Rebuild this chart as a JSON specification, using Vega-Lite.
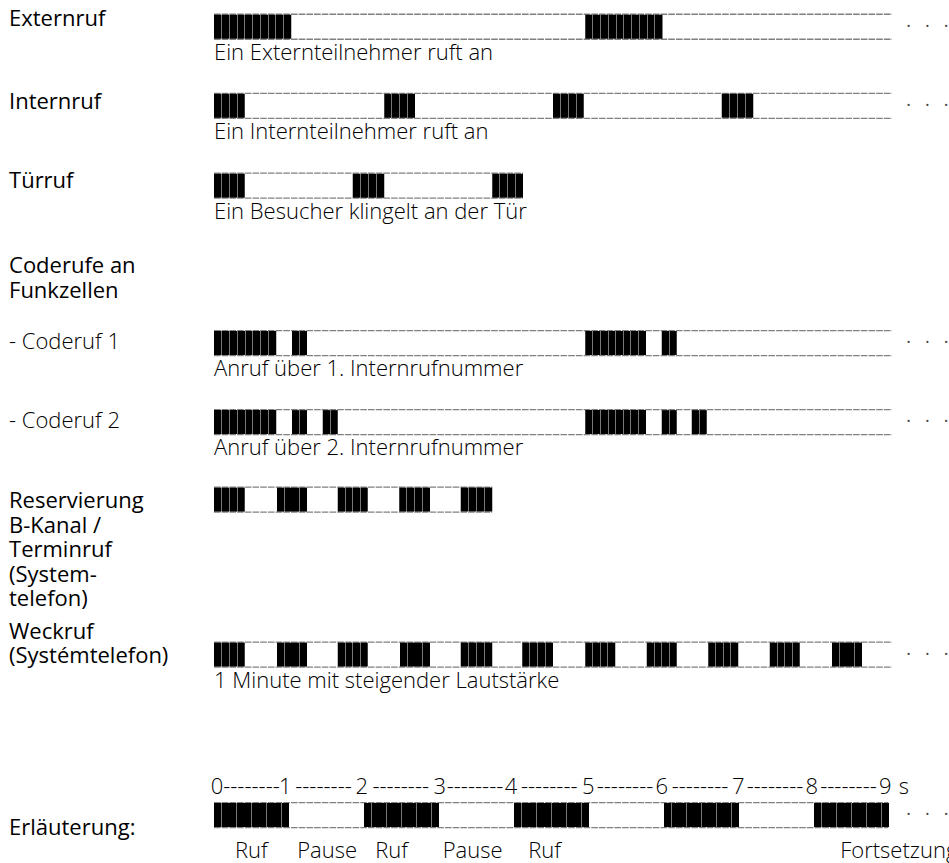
{
  "$schema": "https://vega.github.io/schema/vega-lite/v6.json",
  "width": 949,
  "height": 863,
  "autosize": {"type": "none"},
  "padding": 0,
  "background": "white",
  "config": {"view": {"stroke": null}, "font": "Open Sans"},
  "datasets": {
    "rows": [
      {"signal": "Externruf", "slot": 0, "lineStart": 0, "lineEnd": 9.04, "continues": true, "caption": "Ein Externteilnehmer ruft an"},
      {"signal": "Internruf", "slot": 1, "lineStart": 0, "lineEnd": 9.04, "continues": true, "caption": "Ein Internteilnehmer ruft an"},
      {"signal": "Türruf", "slot": 2.01, "lineStart": 0, "lineEnd": 4.12, "continues": false, "caption": "Ein Besucher klingelt an der Tür"},
      {"signal": "Coderuf 1", "slot": 4, "lineStart": 0, "lineEnd": 9.04, "continues": true, "caption": "Anruf über 1. Internrufnummer"},
      {"signal": "Coderuf 2", "slot": 5, "lineStart": 0, "lineEnd": 9.04, "continues": true, "caption": "Anruf über 2. Internrufnummer"},
      {"signal": "Reservierung", "slot": 5.98, "lineStart": 0, "lineEnd": 3.71, "continues": false, "caption": ""},
      {"signal": "Weckruf", "slot": 7.94, "lineStart": 0, "lineEnd": 9.04, "continues": true, "caption": "1 Minute mit steigender Lautstärke"},
      {"signal": "Erläuterung", "slot": 9.97, "lineStart": 0, "lineEnd": 8.99, "continues": true, "caption": ""}
    ],
    "segments": [
      {"signal": "Externruf", "slot": 0, "start": 0, "end": 1.03},
      {"signal": "Externruf", "slot": 0, "start": 4.95, "end": 5.98},
      {"signal": "Internruf", "slot": 1, "start": 0, "end": 0.41},
      {"signal": "Internruf", "slot": 1, "start": 2.27, "end": 2.68},
      {"signal": "Internruf", "slot": 1, "start": 4.52, "end": 4.93},
      {"signal": "Internruf", "slot": 1, "start": 6.77, "end": 7.19},
      {"signal": "Türruf", "slot": 2.01, "start": 0, "end": 0.41},
      {"signal": "Türruf", "slot": 2.01, "start": 1.85, "end": 2.27},
      {"signal": "Türruf", "slot": 2.01, "start": 3.71, "end": 4.12},
      {"signal": "Coderuf 1", "slot": 4, "start": 0, "end": 0.83},
      {"signal": "Coderuf 1", "slot": 4, "start": 1.04, "end": 1.24},
      {"signal": "Coderuf 1", "slot": 4, "start": 4.95, "end": 5.76},
      {"signal": "Coderuf 1", "slot": 4, "start": 5.97, "end": 6.17},
      {"signal": "Coderuf 2", "slot": 5, "start": 0, "end": 0.83},
      {"signal": "Coderuf 2", "slot": 5, "start": 1.04, "end": 1.24},
      {"signal": "Coderuf 2", "slot": 5, "start": 1.45, "end": 1.65},
      {"signal": "Coderuf 2", "slot": 5, "start": 4.95, "end": 5.76},
      {"signal": "Coderuf 2", "slot": 5, "start": 5.97, "end": 6.17},
      {"signal": "Coderuf 2", "slot": 5, "start": 6.37, "end": 6.57},
      {"signal": "Reservierung", "slot": 5.98, "start": 0, "end": 0.41},
      {"signal": "Reservierung", "slot": 5.98, "start": 0.84, "end": 1.24},
      {"signal": "Reservierung", "slot": 5.98, "start": 1.65, "end": 2.05},
      {"signal": "Reservierung", "slot": 5.98, "start": 2.47, "end": 2.88},
      {"signal": "Reservierung", "slot": 5.98, "start": 3.29, "end": 3.71},
      {"signal": "Weckruf", "slot": 7.94, "start": 0, "end": 0.41},
      {"signal": "Weckruf", "slot": 7.94, "start": 0.84, "end": 1.24},
      {"signal": "Weckruf", "slot": 7.94, "start": 1.65, "end": 2.05},
      {"signal": "Weckruf", "slot": 7.94, "start": 2.48, "end": 2.88},
      {"signal": "Weckruf", "slot": 7.94, "start": 3.29, "end": 3.71},
      {"signal": "Weckruf", "slot": 7.94, "start": 4.11, "end": 4.52},
      {"signal": "Weckruf", "slot": 7.94, "start": 4.95, "end": 5.35},
      {"signal": "Weckruf", "slot": 7.94, "start": 5.77, "end": 6.17},
      {"signal": "Weckruf", "slot": 7.94, "start": 6.59, "end": 6.99},
      {"signal": "Weckruf", "slot": 7.94, "start": 7.41, "end": 7.81},
      {"signal": "Weckruf", "slot": 7.94, "start": 8.24, "end": 8.64},
      {"signal": "Erläuterung", "slot": 9.97, "start": 0, "end": 1},
      {"signal": "Erläuterung", "slot": 9.97, "start": 2, "end": 3},
      {"signal": "Erläuterung", "slot": 9.97, "start": 4, "end": 5},
      {"signal": "Erläuterung", "slot": 9.97, "start": 6, "end": 7},
      {"signal": "Erläuterung", "slot": 9.97, "start": 8, "end": 9}
    ],
    "labels": [
      {"label": "Externruf", "slot": -0.01, "level": 1},
      {"label": "Internruf", "slot": 1.04, "level": 1},
      {"label": "Türruf", "slot": 2.04, "level": 1},
      {"label": "Coderufe an\nFunkzellen", "slot": 3.115, "level": 1},
      {"label": "- Coderuf 1", "slot": 4.08, "level": 2},
      {"label": "- Coderuf 2", "slot": 5.08, "level": 2},
      {"label": "Reservierung\nB-Kanal /\nTerminruf\n(System-\ntelefon)", "slot": 6.09, "level": 1},
      {"label": "Weckruf\n(Systémtelefon)", "slot": 7.74, "level": 1},
      {"label": "Erläuterung:", "slot": 10.22, "level": 1}
    ],
    "scaleMarks": [
      {"t": 0.04, "label": "0"},
      {"t": 0.5, "label": "--------"},
      {"t": 0.95, "label": "1"},
      {"t": 1.46, "label": "--------"},
      {"t": 1.97, "label": "2"},
      {"t": 2.49, "label": "--------"},
      {"t": 3.01, "label": "3"},
      {"t": 3.48, "label": "--------"},
      {"t": 3.96, "label": "4"},
      {"t": 4.47, "label": "--------"},
      {"t": 4.99, "label": "5"},
      {"t": 5.48, "label": "--------"},
      {"t": 5.97, "label": "6"},
      {"t": 6.48, "label": "--------"},
      {"t": 6.99, "label": "7"},
      {"t": 7.48, "label": "--------"},
      {"t": 7.97, "label": "8"},
      {"t": 8.46, "label": "--------"},
      {"t": 8.95, "label": "9"},
      {"t": 9.2, "label": "s"}
    ],
    "legendWords": [
      {"t": 0.28, "label": "Ruf"},
      {"t": 1.11, "label": "Pause"},
      {"t": 2.15, "label": "Ruf"},
      {"t": 3.05, "label": "Pause"},
      {"t": 4.19, "label": "Ruf"},
      {"t": 8.35, "label": "Fortsetzung"}
    ]
  },
  "layer": [
    {
      "data": {"name": "rows"},
      "mark": {"type": "rule", "yOffset": -12.5, "color": "#808080", "strokeWidth": 1.3, "strokeDash": [6.6, 1.1]},
      "encoding": {
        "x": {"field": "lineStart", "type": "quantitative", "axis": null, "scale": {"domain": [-2.8533, 9.8], "nice": false, "zero": false}},
        "x2": {"field": "lineEnd"},
        "y": {"field": "slot", "type": "quantitative", "axis": null, "scale": {"domain": [-0.275, 10.5125], "reverse": true, "nice": false, "zero": false}}
      }
    },
    {
      "data": {"name": "rows"},
      "mark": {"type": "rule", "yOffset": 12.5, "color": "#808080", "strokeWidth": 1.3, "strokeDash": [6.6, 1.1]},
      "encoding": {
        "x": {"field": "lineStart", "type": "quantitative", "axis": null},
        "x2": {"field": "lineEnd"},
        "y": {"field": "slot", "type": "quantitative", "axis": null}
      }
    },
    {
      "data": {"name": "segments"},
      "transform": [{"filter": "datum.end - datum.start > 0.9"}],
      "mark": {"type": "bar", "orient": "horizontal", "size": 24, "fill": {"gradient": "linear", "x1": 0, "x2": 1, "y1": 0, "y2": 0, "stops": [
        {"offset": 0, "color": "#000"},
        {"offset": 0.0935, "color": "#000"}, {"offset": 0.0935, "color": "#777"}, {"offset": 0.1065, "color": "#777"}, {"offset": 0.1065, "color": "#000"},
        {"offset": 0.1935, "color": "#000"}, {"offset": 0.1935, "color": "#777"}, {"offset": 0.2065, "color": "#777"}, {"offset": 0.2065, "color": "#000"},
        {"offset": 0.2935, "color": "#000"}, {"offset": 0.2935, "color": "#777"}, {"offset": 0.3065, "color": "#777"}, {"offset": 0.3065, "color": "#000"},
        {"offset": 0.3935, "color": "#000"}, {"offset": 0.3935, "color": "#777"}, {"offset": 0.4065, "color": "#777"}, {"offset": 0.4065, "color": "#000"},
        {"offset": 0.4935, "color": "#000"}, {"offset": 0.4935, "color": "#777"}, {"offset": 0.5065, "color": "#777"}, {"offset": 0.5065, "color": "#000"},
        {"offset": 0.5935, "color": "#000"}, {"offset": 0.5935, "color": "#777"}, {"offset": 0.6065, "color": "#777"}, {"offset": 0.6065, "color": "#000"},
        {"offset": 0.6935, "color": "#000"}, {"offset": 0.6935, "color": "#777"}, {"offset": 0.7065, "color": "#777"}, {"offset": 0.7065, "color": "#000"},
        {"offset": 0.7935, "color": "#000"}, {"offset": 0.7935, "color": "#777"}, {"offset": 0.8065, "color": "#777"}, {"offset": 0.8065, "color": "#000"},
        {"offset": 0.8935, "color": "#000"}, {"offset": 0.8935, "color": "#777"}, {"offset": 0.9065, "color": "#777"}, {"offset": 0.9065, "color": "#000"},
        {"offset": 1, "color": "#000"}
      ]}},
      "encoding": {
        "x": {"field": "start", "type": "quantitative", "axis": null},
        "x2": {"field": "end"},
        "y": {"field": "slot", "type": "quantitative", "axis": null}
      }
    },
    {
      "data": {"name": "segments"},
      "transform": [{"filter": "datum.end - datum.start > 0.6 && datum.end - datum.start <= 0.9"}],
      "mark": {"type": "bar", "orient": "horizontal", "size": 24, "fill": {"gradient": "linear", "x1": 0, "x2": 1, "y1": 0, "y2": 0, "stops": [
        {"offset": 0, "color": "#000"},
        {"offset": 0.117, "color": "#000"}, {"offset": 0.117, "color": "#777"}, {"offset": 0.133, "color": "#777"}, {"offset": 0.133, "color": "#000"},
        {"offset": 0.242, "color": "#000"}, {"offset": 0.242, "color": "#777"}, {"offset": 0.258, "color": "#777"}, {"offset": 0.258, "color": "#000"},
        {"offset": 0.367, "color": "#000"}, {"offset": 0.367, "color": "#777"}, {"offset": 0.383, "color": "#777"}, {"offset": 0.383, "color": "#000"},
        {"offset": 0.492, "color": "#000"}, {"offset": 0.492, "color": "#777"}, {"offset": 0.508, "color": "#777"}, {"offset": 0.508, "color": "#000"},
        {"offset": 0.617, "color": "#000"}, {"offset": 0.617, "color": "#777"}, {"offset": 0.633, "color": "#777"}, {"offset": 0.633, "color": "#000"},
        {"offset": 0.742, "color": "#000"}, {"offset": 0.742, "color": "#777"}, {"offset": 0.758, "color": "#777"}, {"offset": 0.758, "color": "#000"},
        {"offset": 0.867, "color": "#000"}, {"offset": 0.867, "color": "#777"}, {"offset": 0.883, "color": "#777"}, {"offset": 0.883, "color": "#000"},
        {"offset": 1, "color": "#000"}
      ]}},
      "encoding": {
        "x": {"field": "start", "type": "quantitative", "axis": null},
        "x2": {"field": "end"},
        "y": {"field": "slot", "type": "quantitative", "axis": null}
      }
    },
    {
      "data": {"name": "segments"},
      "transform": [{"filter": "datum.end - datum.start > 0.3 && datum.end - datum.start <= 0.6"}],
      "mark": {"type": "bar", "orient": "horizontal", "size": 24, "fill": {"gradient": "linear", "x1": 0, "x2": 1, "y1": 0, "y2": 0, "stops": [
        {"offset": 0, "color": "#000"},
        {"offset": 0.234, "color": "#000"}, {"offset": 0.234, "color": "#777"}, {"offset": 0.266, "color": "#777"}, {"offset": 0.266, "color": "#000"},
        {"offset": 0.484, "color": "#000"}, {"offset": 0.484, "color": "#777"}, {"offset": 0.516, "color": "#777"}, {"offset": 0.516, "color": "#000"},
        {"offset": 0.734, "color": "#000"}, {"offset": 0.734, "color": "#777"}, {"offset": 0.766, "color": "#777"}, {"offset": 0.766, "color": "#000"},
        {"offset": 1, "color": "#000"}
      ]}},
      "encoding": {
        "x": {"field": "start", "type": "quantitative", "axis": null},
        "x2": {"field": "end"},
        "y": {"field": "slot", "type": "quantitative", "axis": null}
      }
    },
    {
      "data": {"name": "segments"},
      "transform": [{"filter": "datum.end - datum.start <= 0.3"}],
      "mark": {"type": "bar", "orient": "horizontal", "size": 24, "fill": {"gradient": "linear", "x1": 0, "x2": 1, "y1": 0, "y2": 0, "stops": [
        {"offset": 0, "color": "#000"},
        {"offset": 0.467, "color": "#000"}, {"offset": 0.467, "color": "#777"}, {"offset": 0.533, "color": "#777"}, {"offset": 0.533, "color": "#000"},
        {"offset": 1, "color": "#000"}
      ]}},
      "encoding": {
        "x": {"field": "start", "type": "quantitative", "axis": null},
        "x2": {"field": "end"},
        "y": {"field": "slot", "type": "quantitative", "axis": null}
      }
    },
    {
      "data": {"name": "rows"},
      "mark": {"type": "text", "align": "left", "baseline": "alphabetic", "dy": 33, "fontSize": 22, "fontWeight": 300, "color": "#000"},
      "encoding": {
        "x": {"field": "lineStart", "type": "quantitative", "axis": null},
        "y": {"field": "slot", "type": "quantitative", "axis": null},
        "text": {"field": "caption"}
      }
    },
    {
      "data": {"name": "rows"},
      "transform": [{"filter": "datum.continues"}],
      "mark": {"type": "text", "align": "left", "baseline": "middle", "fontSize": 18, "color": "#444", "text": "·\u00a0\u00a0\u00a0·\u00a0\u00a0\u00a0·"},
      "encoding": {
        "x": {"datum": 9.23, "type": "quantitative", "axis": null},
        "y": {"field": "slot", "type": "quantitative", "axis": null}
      }
    },
    {
      "data": {"name": "labels"},
      "transform": [{"filter": "datum.level == 1"}],
      "mark": {"type": "text", "align": "left", "baseline": "alphabetic", "fontSize": 22, "fontWeight": 400, "lineBreak": "\n", "lineHeight": 24.5, "color": "#000"},
      "encoding": {
        "x": {"datum": -2.733, "type": "quantitative", "axis": null},
        "y": {"field": "slot", "type": "quantitative", "axis": null},
        "text": {"field": "label"}
      }
    },
    {
      "data": {"name": "labels"},
      "transform": [{"filter": "datum.level == 2"}],
      "mark": {"type": "text", "align": "left", "baseline": "alphabetic", "fontSize": 22, "fontWeight": 300, "color": "#000"},
      "encoding": {
        "x": {"datum": -2.733, "type": "quantitative", "axis": null},
        "y": {"field": "slot", "type": "quantitative", "axis": null},
        "text": {"field": "label"}
      }
    },
    {
      "data": {"name": "scaleMarks"},
      "mark": {"type": "text", "align": "center", "baseline": "alphabetic", "dy": -21.5, "fontSize": 22, "fontWeight": 300, "color": "#000"},
      "encoding": {
        "x": {"field": "t", "type": "quantitative", "axis": null},
        "y": {"datum": 9.97, "type": "quantitative", "axis": null},
        "text": {"field": "label"}
      }
    },
    {
      "data": {"name": "legendWords"},
      "mark": {"type": "text", "align": "left", "baseline": "alphabetic", "dy": 43, "fontSize": 22, "fontWeight": 300, "color": "#000"},
      "encoding": {
        "x": {"field": "t", "type": "quantitative", "axis": null},
        "y": {"datum": 9.97, "type": "quantitative", "axis": null},
        "text": {"field": "label"}
      }
    }
  ]
}
